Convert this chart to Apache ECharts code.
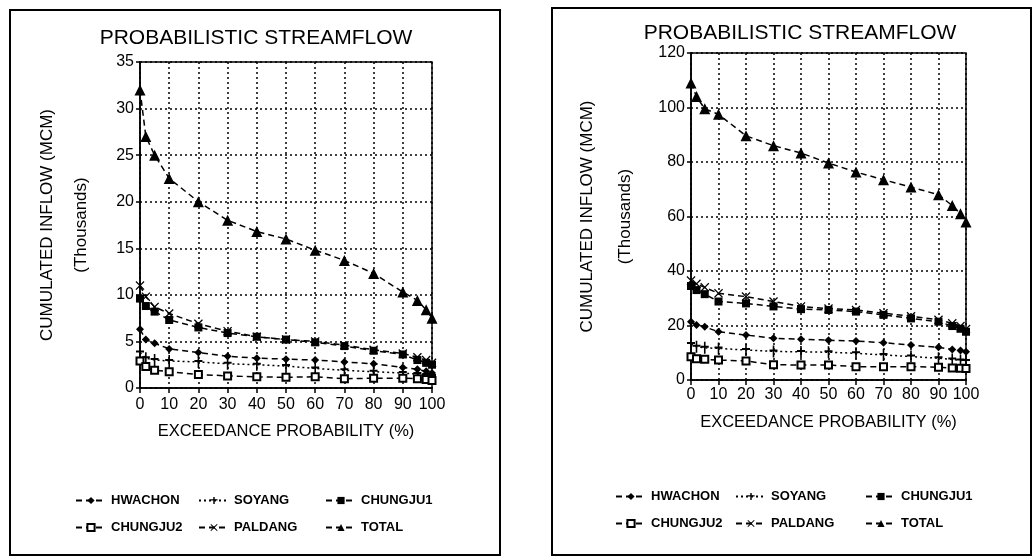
<!DOCTYPE html>
<html>
<head>
<meta charset="utf-8">
<script src="https://cdn.jsdelivr.net/npm/echarts@6/dist/echarts.min.js"></script>
<style>
  html, body { margin: 0; padding: 0; background: #fff; }
  #chart { width: 1035px; height: 557px; }
</style>
</head>
<body>
<div id="chart"></div>
<script>
// exceedance probability (%)
var probs = [0, 2, 5, 10, 20, 30, 40, 50, 60, 70, 80, 90, 95, 98, 100]

// left panel (thousands MCM)
var hwachonA = [6.3, 5.2, 4.8, 4.2, 3.8, 3.4, 3.2, 3.1, 3.0, 2.8, 2.6, 2.2, 2.0, 1.8, 1.6]
var soyangA = [3.8, 3.2, 3.0, 2.9, 2.8, 2.6, 2.5, 2.35, 2.1, 1.9, 1.75, 1.6, 1.5, 1.4, 1.3]
var chungju1A = [9.6, 8.8, 8.2, 7.3, 6.5, 5.9, 5.5, 5.2, 4.9, 4.5, 4.0, 3.6, 3.0, 2.7, 2.5]
var chungju2A = [2.9, 2.3, 1.9, 1.75, 1.45, 1.3, 1.2, 1.15, 1.2, 1.0, 1.05, 1.05, 1.0, 0.9, 0.8]
var paldangA = [11.0, 9.8, 8.7, 8.0, 6.9, 6.1, 5.5, 5.2, 5.0, 4.6, 4.1, 3.7, 3.3, 3.0, 2.7]
var totalA = [32, 27, 25, 22.5, 20, 18, 16.8, 16, 14.8, 13.7, 12.3, 10.3, 9.4, 8.4, 7.5]

// right panel (thousands MCM)
var hwachonB = [21.4, 20.2, 19.5, 17.7, 16.5, 15.3, 15.0, 14.6, 14.3, 13.7, 12.8, 12.0, 11.2, 10.8, 10.4]
var soyangB = [13.2, 12.2, 11.8, 11.6, 11.0, 10.5, 10.3, 10.2, 9.8, 9.2, 8.6, 8.0, 7.5, 7.2, 7.0]
var chungju1B = [34.5, 33, 31.5, 28.8, 28.1, 27.0, 26.0, 25.7, 25.1, 23.9, 22.6, 21.4, 19.8, 18.8, 17.7]
var chungju2B = [8.5, 7.8, 7.6, 7.3, 7.0, 5.6, 5.5, 5.5, 4.9, 4.9, 4.9, 4.7, 4.4, 4.3, 4.2]
var paldangB = [36.5, 35.3, 34, 31.8, 30.6, 28.8, 27.0, 26.2, 25.7, 24.5, 23.4, 22.1, 20.8, 19.8, 18.7]
var totalB = [109, 104, 99.5, 97.5, 89.6, 86, 83.3, 79.6, 76.3, 73.5, 70.8, 68, 64, 61, 58]

var titleText = 'PROBABILISTIC STREAMFLOW'
var yName = 'CUMULATED INFLOW (MCM)\n(Thousands)'
var xName = 'EXCEEDANCE PROBABILITY (%)'

var FONT = "'Liberation Sans', Arial, sans-serif"
var dash = [6, 4]
var dot = [2, 3]

var styles = [
  { name: 'HWACHON', symbol: 'diamond', size: 8, line: dash, empty: false },
  { name: 'SOYANG', symbol: 'path://M4,0 L6,0 L6,4 L10,4 L10,6 L6,6 L6,12 L4,12 L4,6 L0,6 L0,4 L4,4 Z', size: [8, 12], line: dot, empty: false },
  { name: 'CHUNGJU1', symbol: 'rect', size: 8, line: dash, empty: false },
  { name: 'CHUNGJU2', symbol: 'emptyRect', size: 7, line: dash, empty: true },
  { name: 'PALDANG', symbol: 'path://M0,1 L1,0 L5,4 L9,0 L10,1 L6,5 L10,9 L9,10 L5,6 L1,10 L0,9 L4,5 Z', size: 9, line: dash, empty: false },
  { name: 'TOTAL', symbol: 'triangle', size: 11, line: dash, empty: false }
]

function pairs(vals) {
  return probs.map(function(p, i) { return [p, vals[i]] })
}

function makeSeries(idx, lists) {
  return styles.map(function(s, i) {
    return {
      name: s.name,
      type: 'line',
      xAxisIndex: idx,
      yAxisIndex: idx,
      data: pairs(lists[i]),
      symbol: s.symbol,
      symbolSize: s.size,
      showAllSymbol: true,
      itemStyle: { color: '#000', borderColor: '#000', borderWidth: s.empty ? 1.5 : 0 },
      lineStyle: { color: '#000', width: 1.5, type: s.line },
      emphasis: { disabled: true },
      animation: false
    }
  })
}

function xAxisCfg(idx, margin, gap) {
  return {
    type: 'value', gridIndex: idx, min: 0, max: 100, interval: 10,
    name: xName, nameLocation: 'middle', nameGap: gap,
    nameTextStyle: { color: '#000', fontSize: 16.5, fontFamily: FONT },
    axisLine: { lineStyle: { color: '#000', width: 1.5 } },
    axisTick: { show: true, length: 5, lineStyle: { color: '#000', width: 1.5 } },
    axisLabel: { color: '#000', fontSize: 16, fontFamily: FONT, margin: margin, showMaxLabel: true, showMinLabel: true },
    splitLine: { show: true, lineStyle: { color: '#000', width: 1.5, type: dot } }
  }
}

function yAxisCfg(idx, max, interval, gap, lh) {
  return {
    type: 'value', gridIndex: idx, min: 0, max: max, interval: interval,
    name: yName, nameLocation: 'middle', nameGap: gap, nameRotate: 90, nameMoveOverlap: false,
    nameTextStyle: { color: '#000', fontSize: 17, fontFamily: FONT, lineHeight: lh },
    axisLine: { show: true, lineStyle: { color: '#000', width: 1.5 } },
    axisTick: { show: true, length: 4, lineStyle: { color: '#000', width: 1.5 } },
    axisLabel: { color: '#000', fontSize: 16, fontFamily: FONT, margin: 6 },
    splitLine: { show: true, lineStyle: { color: '#000', width: 1.5, type: dot } }
  }
}

function legendCol(left, top, names) {
  return {
    orient: 'vertical', left: left, top: top, itemGap: 14,
    itemWidth: 30, itemHeight: 9,
    data: names,
    textStyle: { color: '#000', fontSize: 13, fontWeight: 'bold', fontFamily: FONT },
    selectedMode: false
  }
}

var chart = echarts.init(document.getElementById('chart'))

chart.setOption({
  backgroundColor: '#fff',
  animation: false,
  title: [
    { text: titleText, left: 251, top: 23, textAlign: 'center', textStyle: { color: '#000', fontSize: 21, fontWeight: 'normal', fontFamily: FONT } },
    { text: titleText, left: 795, top: 18, textAlign: 'center', textStyle: { color: '#000', fontSize: 21, fontWeight: 'normal', fontFamily: FONT } }
  ],
  grid: [
    { left: 140, top: 62, width: 292, height: 326, show: true, borderColor: '#000', borderWidth: 1.5, backgroundColor: 'transparent' },
    { left: 691, top: 53, width: 275, height: 327, show: true, borderColor: '#000', borderWidth: 1.5, backgroundColor: 'transparent' }
  ],
  xAxis: [xAxisCfg(0, 9, 35), xAxisCfg(1, 7, 34)],
  yAxis: [yAxisCfg(0, 35, 5, 42, 34), yAxisCfg(1, 120, 20, 47, 38)],
  legend: [
    legendCol(70, 489, ['HWACHON', 'CHUNGJU2']),
    legendCol(193, 489, ['SOYANG', 'PALDANG']),
    legendCol(320, 489, ['CHUNGJU1', 'TOTAL']),
    legendCol(610, 485, ['HWACHON', 'CHUNGJU2']),
    legendCol(730, 485, ['SOYANG', 'PALDANG']),
    legendCol(860, 485, ['CHUNGJU1', 'TOTAL'])
  ],
  graphic: [
    { type: 'rect', shape: { x: 10, y: 10, width: 490, height: 545 }, style: { fill: 'none', stroke: '#000', lineWidth: 2 }, silent: true },
    { type: 'rect', shape: { x: 552, y: 8, width: 479, height: 547 }, style: { fill: 'none', stroke: '#000', lineWidth: 2 }, silent: true }
  ],
  series: makeSeries(0, [hwachonA, soyangA, chungju1A, chungju2A, paldangA, totalA])
    .concat(makeSeries(1, [hwachonB, soyangB, chungju1B, chungju2B, paldangB, totalB]))
})
</script>
</body>
</html>
